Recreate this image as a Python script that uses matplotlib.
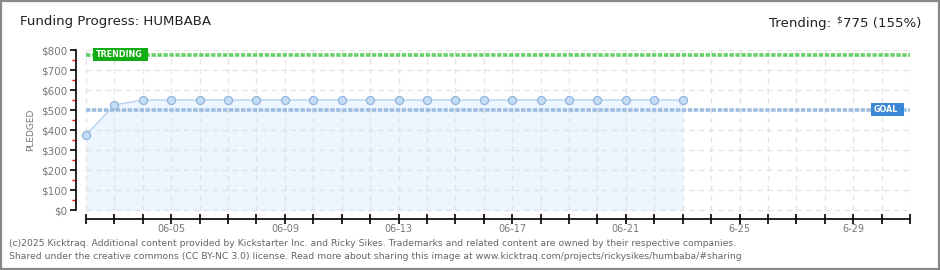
import matplotlib
matplotlib.use("Agg")
import matplotlib.pyplot as plt
from matplotlib.patches import Rectangle
import numpy as np

# ---- data ----
dates = ["06-02", "06-03", "06-04", "06-05", "06-06", "06-07", "06-08", "06-09",
         "06-10", "06-11", "06-12", "06-13", "06-14", "06-15", "06-16", "06-17",
         "06-18", "06-19", "06-20", "06-21", "06-22", "06-23"]
pledged = [375, 525, 550, 550, 550, 550, 550, 550, 550, 550, 550, 550, 550, 550,
           550, 550, 550, 550, 550, 550, 550, 550]
goal = 500
trending = 775
n_days = 30  # 06-02 .. 07-01
tick_labels = {3: "06-05", 7: "06-09", 11: "06-13", 15: "06-17", 19: "06-21",
               23: "6-25", 27: "6-29"}
y_ticks = [0, 100, 200, 300, 400, 500, 600, 700, 800]

W, H = 940, 270
fig = plt.figure(figsize=(W / 100, H / 100), dpi=100)
fig.patch.set_facecolor("white")

def fx(px):
    return px / W

def fy(py):
    return (H - py) / H

ax_left, ax_right = 76, 910
ax_top, ax_bottom = 50, 219
ax = fig.add_axes([fx(ax_left), fy(ax_bottom), fx(ax_right - ax_left), (ax_bottom - ax_top) / H])
px_per_day = (ax_right - 86) / (n_days - 1)
ax.set_xlim(-(86 - ax_left) / px_per_day, n_days - 1)
ax.set_ylim(-45, 800)
ax.set_facecolor("none")

x = np.arange(len(pledged))

# fill
ax.fill_between(x, 0, pledged, color="#edf5fe", lw=0, zorder=1)

# grid
for d in range(n_days):
    ax.plot([d, d], [0, 800], color="#dddddd", lw=1, alpha=0.75, dashes=(4, 3), zorder=1.5)
for v in y_ticks:
    ax.plot([0, n_days - 1], [v, v], color="#dddddd", lw=1, alpha=0.75, dashes=(4, 3), zorder=1.5)

# line + markers
ax.plot(x, pledged, color="#b4d2f0", lw=1, zorder=3)
ax.plot(x, pledged, "o", ms=5.8, mfc="#c4dcf6", mec="#93b4da", mew=0.9, zorder=4)

# goal and trending lines
ax.plot([0, n_days - 1], [goal, goal], color="#9dbde3", lw=2.6, dashes=(1.2, 0.45), zorder=2)
ax.plot([0, n_days - 1], [trending, trending], color="#66d066", lw=2.6, dashes=(1.2, 0.45), zorder=2)

# spines
for s in ["top", "right"]:
    ax.spines[s].set_visible(False)
ax.spines["left"].set_bounds(0, 800)
ax.spines["bottom"].set_bounds(0, n_days - 1)
ax.spines["left"].set_linewidth(1.2)
ax.spines["bottom"].set_linewidth(1.2)

ax.set_yticks(y_ticks)
ax.set_yticklabels(["$%d" % v for v in y_ticks], color="#777777", fontsize=7.5)
ax.set_yticks(np.arange(50, 800, 100), minor=True)
ax.tick_params(axis="y", which="major", length=4, width=1.2, color="black", pad=2)
ax.tick_params(axis="y", which="minor", length=3, width=1, color="red")

ax.set_xticks(range(n_days))
ax.set_xticklabels([tick_labels.get(d, "") for d in range(n_days)], color="#777777", fontsize=7)
ax.tick_params(axis="x", which="major", length=7, width=1.2, direction="inout", pad=0)

fig.text(fx(31), fy(130), "PLEDGED", rotation=90, ha="center", va="center",
         color="#777777", fontsize=6.5)

# labels on lines
def label_box(x0, x1, y0, y1, text, color):
    fig.patches.append(Rectangle((fx(x0), fy(y1)), fx(x1 - x0), (y1 - y0) / H,
                                 transform=fig.transFigure, facecolor=color,
                                 edgecolor="none", zorder=5))
    fig.text(fx(x0 + 3), fy((y0 + y1) / 2), text, color="white", fontsize=5.8,
             fontweight="bold", ha="left", va="center", zorder=6)

label_box(93, 148, 48, 61, "TRENDING", "#12ad12")
label_box(871, 904, 103, 116, "GOAL", "#3b87d7")

# title
fig.text(fx(20), fy(25), "Funding Progress: HUMBABA", fontsize=9.6, color="#222222",
         ha="left", va="baseline")

# trending text
fig.canvas.draw()
renderer = fig.canvas.get_renderer()
t3 = fig.text(fx(921), fy(27), "775 (155%)", fontsize=9.6, color="#222222",
              ha="right", va="baseline")
bb3 = t3.get_window_extent(renderer)
t2 = fig.text(bb3.x0 / W - 0.001, fy(22), "\\$", fontsize=6.3, color="#222222",
              ha="right", va="baseline")
bb2 = t2.get_window_extent(renderer)
fig.text(bb2.x0 / W - 0.005, fy(27), "Trending:", fontsize=9.6, color="#222222",
         ha="right", va="baseline")

# footer
fig.text(fx(9), fy(246), "(c)2025 Kicktraq. Additional content provided by Kickstarter Inc. and Ricky Sikes. "
         "Trademarks and related content are owned by their respective companies.",
         fontsize=6.65, color="#666666", ha="left", va="baseline")
fig.text(fx(9), fy(259), "Shared under the creative commons (CC BY-NC 3.0) license. Read more about sharing "
         "this image at www.kicktraq.com/projects/rickysikes/humbaba/#sharing",
         fontsize=6.65, color="#666666", ha="left", va="baseline")

# frame
fig.patches.append(Rectangle((0.001, 0.002), 0.998, 0.996, transform=fig.transFigure,
                             facecolor="none", edgecolor="#888888", lw=1.6, zorder=10))

fig.savefig("out.png", dpi=100)
